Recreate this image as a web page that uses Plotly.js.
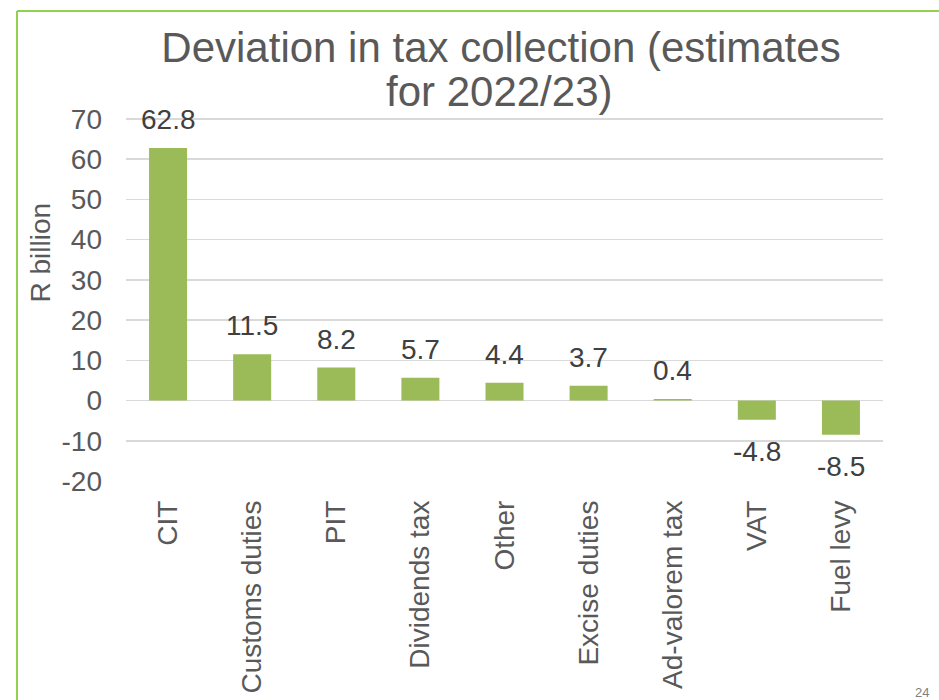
<!DOCTYPE html>
<html>
<head>
<meta charset="utf-8">
<script src="https://cdn.plot.ly/plotly-3.0.1.min.js"></script>
<style>
  html, body { margin: 0; padding: 0; background: #ffffff; }
  #chart { width: 939px; height: 700px; }
</style>
</head>
<body>
<div id="chart"></div>
<script>
// ---- data ----
const categories = ["CIT", "Customs duties", "PIT", "Dividends tax", "Other", "Excise duties", "Ad-valorem tax", "VAT", "Fuel levy"];
const deviation = [62.8, 11.5, 8.2, 5.7, 4.4, 3.7, 0.4, -4.8, -8.5];
const labels = ["62.8", "11.5", "8.2", "5.7", "4.4", "3.7", "0.4", "-4.8", "-8.5"];
const yTickVals = [-20, -10, 0, 10, 20, 30, 40, 50, 60, 70];
const yTickText = ["-20", "-10", "0", "10", "20", "30", "40", "50", "60", "70"];
const titleLine1 = "Deviation in tax collection (estimates";
const titleLine2 = "for 2022/23)";
const yTitle = "R billion";
const pageNumber = "24";

// ---- styling ----
const FONT = '"Liberation Sans", Arial, sans-serif';
const GREY = '#595959';
const DARK = '#404040';
const BAR = '#9BBB59';
const GRID = '#D9D9D9';
const FRAME = '#92D050';

const W = 939, H = 700;
const M = { l: 126, r: 56, t: 117, b: 219 };
const plotW = W - M.l - M.r, plotH = H - M.t - M.b;
const px2x = px => (px - M.l) / plotW;
const py2y = py => (H - M.b - py) / plotH;

const trace = {
  type: 'bar',
  x: categories,
  y: deviation,
  marker: { color: BAR },
  hoverinfo: 'x+y'
};

const annotations = categories.map((c, i) => ({
  x: c, y: deviation[i], xref: 'x', yref: 'y',
  text: labels[i], showarrow: false,
  xanchor: 'center',
  yanchor: deviation[i] >= 0 ? 'bottom' : 'top',
  yshift: deviation[i] >= 0 ? 11 : -14,
  font: { family: FONT, size: 28, color: DARK }
}));

annotations.push({
  xref: 'paper', yref: 'paper', x: px2x(499), y: py2y(66),
  xanchor: 'center', yanchor: 'top', showarrow: false,
  text: titleLine2, font: { family: FONT, size: 42, color: GREY }
});
annotations.push({
  xref: 'paper', yref: 'paper', x: px2x(39.5), y: py2y(253),
  xanchor: 'center', yanchor: 'middle', showarrow: false, textangle: -90,
  text: yTitle, font: { family: FONT, size: 28, color: GREY }
});
annotations.push({
  xref: 'paper', yref: 'paper', x: px2x(922), y: py2y(683),
  xanchor: 'center', yanchor: 'top', showarrow: false,
  text: pageNumber, font: { family: FONT, size: 13, color: '#808080' }
});

const layout = {
  width: W, height: H,
  margin: M,
  paper_bgcolor: '#ffffff', plot_bgcolor: '#ffffff',
  font: { family: FONT, size: 28, color: GREY },
  showlegend: false,
  bargap: 0.548,
  title: {
    text: titleLine1,
    font: { family: FONT, size: 42, color: GREY },
    xref: 'paper', x: px2x(501), xanchor: 'center',
    yref: 'container', y: 1 - 33 / H, yanchor: 'top'
  },
  xaxis: {
    type: 'category',
    tickangle: -90,
    showgrid: false, showline: false, zeroline: false,
    ticks: '', automargin: false,
    ticklabelstandoff: 13,
    tickfont: { family: FONT, size: 28, color: GREY }
  },
  yaxis: {
    range: [-20, 70.5],
    tickvals: yTickVals,
    ticktext: yTickText,
    showgrid: true, gridcolor: GRID, gridwidth: 1.5,
    zeroline: true, zerolinecolor: GRID, zerolinewidth: 1.5,
    showline: false, ticks: '', automargin: false,
    ticklabelstandoff: 23,
    tickfont: { family: FONT, size: 28, color: GREY }
  },
  annotations: annotations,
  shapes: [
    { type: 'line', xref: 'paper', yref: 'paper', x0: px2x(17), x1: px2x(17), y0: py2y(11), y1: py2y(720),
      line: { color: FRAME, width: 2 }, layer: 'above' },
    { type: 'line', xref: 'paper', yref: 'paper', x0: px2x(17), x1: px2x(945), y0: py2y(11), y1: py2y(11),
      line: { color: FRAME, width: 2 }, layer: 'above' }
  ]
};

Plotly.newPlot('chart', [trace], layout, { displayModeBar: false, staticPlot: true });
</script>
</body>
</html>
